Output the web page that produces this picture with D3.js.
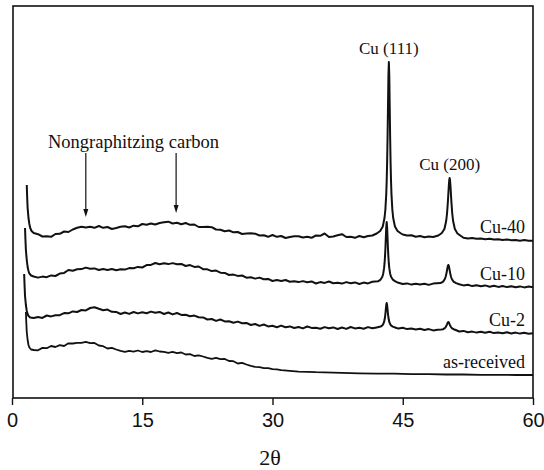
<!DOCTYPE html>
<html>
<head>
<meta charset="utf-8">
<script src="https://cdn.jsdelivr.net/npm/d3@7"></script>
<style>
  html, body { margin: 0; padding: 0; background: #fff; }
  svg { display: block; }
</style>
</head>
<body>
<div id="chart"></div>
<script>
(function () {
  'use strict';

  // XRD traces, [2θ (deg), intensity (a.u., stacked offsets included)]
  const AS_RECEIVED = [
    [1.6, 86], [1.65, 75], [1.7, 66], [1.8, 58], [1.9, 53], [2.0, 50.5], [2.2, 48.5], [2.5, 48],
    [3, 47.7], [3.5, 50.1], [4, 49.8], [4.5, 52], [5, 51], [5.5, 52.8], [6, 52], [6.5, 54.7],
    [7, 54.5], [7.5, 55.1], [8, 55.2], [8.5, 56.1], [9, 54.8], [9.5, 55], [10, 52.5], [10.5, 51.8],
    [11, 49.5], [11.5, 50.2], [12, 48.5], [12.5, 47.1], [13, 46.2], [13.5, 47.1], [14, 46.3], [14.5, 47.5],
    [15, 46], [15.5, 46.8], [16, 46], [16.5, 47.7], [17, 46.5], [17.5, 46.1], [18, 45.2], [18.5, 46.1],
    [19, 44.8], [19.5, 45.5], [20, 43.5], [20.5, 43.8], [21, 42], [21.5, 42.7], [22, 41.5], [22.5, 40.1],
    [23, 39.2], [23.5, 40.1], [24, 38.8], [24.5, 39], [25, 37], [25.5, 36.8], [26, 34.5], [26.5, 35.2],
    [27, 33.5], [27.5, 32.1], [28, 31.1], [28.5, 30.8], [29, 29.9], [29.5, 29.8], [30, 28.8], [30.5, 28.7],
    [31, 27.8], [32, 27.2], [33, 26.4], [34, 26.2], [35, 25.8], [36, 25.6], [38, 25.1], [40, 24.7],
    [42, 24.4], [44, 24.3], [46, 23.9], [48, 23.8], [50, 23.5], [52, 23.5], [54, 23.2], [56, 23.2],
    [58, 23], [60, 23]
  ];

  const CU_2 = [
    [1.4, 124], [1.45, 112], [1.5, 102], [1.6, 93], [1.7, 87], [1.8, 84], [1.9, 82], [2.1, 80.5], [2.5, 80],
    [3, 81], [3.5, 80.1], [4, 82.5], [4.5, 81.6], [5, 82.7], [5.5, 82.8], [6, 84.9], [6.5, 84.7],
    [7, 86.6], [7.5, 86], [8, 88], [8.5, 87.6], [9, 90], [9.5, 90.8], [10, 89.2], [10.5, 87.8],
    [11, 88.4], [11.5, 86.2], [12, 86.1], [12.5, 84], [13, 85.5], [13.5, 84.1], [14, 86], [14.5, 84.6],
    [15, 85.7], [15.5, 84.8], [16, 86.4], [16.5, 85.2], [17, 86.1], [17.5, 84], [18, 85.5], [18.5, 83.6],
    [19, 85], [19.5, 83.1], [20, 83.2], [20.5, 81.8], [21, 82.4], [21.5, 80.7], [22, 80.6], [22.5, 78.5],
    [23, 79], [23.5, 77.1], [24, 78.5], [24.5, 76.6], [25, 76.7], [25.5, 75.3], [26, 76.4], [26.5, 74.7],
    [27, 75.1], [27.5, 73], [28, 74], [28.5, 72.1], [29, 73.5], [29.5, 71.6], [30, 72.2], [30.5, 70.8],
    [31, 72.4], [31.5, 70.7], [32, 71.6], [32.5, 70], [33, 71], [33.5, 69.6], [34, 71.5], [34.5, 70.1],
    [35, 70.2], [35.5, 69.3], [36, 70.9], [36.5, 69.7], [37, 70.6], [37.5, 69], [38, 70.5], [38.5, 69.1],
    [39, 71], [39.5, 69.6], [40, 70.2], [40.5, 69.3], [41, 70.9], [41.5, 69.7], [42, 70.6],
    // Cu (111)
    [42.45, 71.4], [42.65, 72.6], [42.75, 73.8], [42.85, 76.1], [42.9, 77.9], [42.95, 80.5], [43.0, 84],
    [43.05, 88.6], [43.1, 93], [43.15, 95], [43.2, 93], [43.25, 88.6], [43.3, 84], [43.35, 80.5],
    [43.4, 77.9], [43.45, 76.1], [43.55, 73.8], [43.65, 72.6], [43.85, 71.4],
    [44.2, 70.3], [44.5, 69.4], [45, 70.2], [45.5, 68.9], [46, 69.4], [46.5, 68.5], [47, 69.3], [47.5, 68],
    [48, 68.9], [48.5, 67.6], [49, 68.2],
    // Cu (200)
    [49.45, 68.5], [49.65, 68.8], [49.85, 69.9], [49.95, 71], [50.05, 72.7], [50.1, 73.7], [50.15, 74.8],
    [50.2, 75.7], [50.25, 76], [50.3, 75.7], [50.35, 74.8], [50.4, 73.7], [50.45, 72.7], [50.55, 71],
    [50.65, 69.9], [50.85, 68.8], [51.1, 68],
    [51.5, 66.5], [52, 67.1], [52.5, 65.7], [53, 66.4], [53.5, 65.4], [54, 66.3], [54.5, 65.2], [55, 66.2],
    [55.5, 64.9], [56, 65.6], [56.5, 64.7], [57, 65.8], [57.5, 64.5], [58, 65.4], [58.5, 64.4], [59, 65.2],
    [59.5, 64.3], [60, 64.8]
  ];

  const CU_10 = [
    [1.5, 170], [1.55, 158], [1.6, 148], [1.7, 138], [1.8, 131], [1.9, 127], [2.0, 124.5], [2.2, 122.5], [2.5, 121.5],
    [3, 120.4], [3.5, 121.4], [4, 120.8], [4.5, 122.6], [5, 122], [5.5, 124.4], [6, 125.1], [6.5, 128],
    [7, 127.3], [7.5, 128.7], [8, 128.9], [8.5, 130.4], [9, 129.3], [9.5, 129.6], [10, 128], [10.5, 128.9],
    [11, 128.1], [11.5, 129], [12, 127.8], [12.5, 128.7], [13, 128.4], [13.5, 129.9], [14, 129.8], [14.5, 131.1],
    [15, 130.5], [15.5, 132.9], [16, 133.1], [16.5, 135], [17, 133.8], [17.5, 134.7], [18, 133.9], [18.5, 134.9],
    [19, 133.8], [19.5, 134.1], [20, 132], [20.5, 132.9], [21, 131.1], [21.5, 131.5], [22, 128.8], [22.5, 128.7],
    [23, 126.9], [23.5, 127.4], [24, 125.3], [24.5, 125.1], [25, 123], [25.5, 123.4], [26, 122.1], [26.5, 122.5],
    [27, 120.3], [27.5, 120.7], [28, 119.4], [28.5, 120.4], [29, 118.8], [29.5, 119.1], [30, 117], [30.5, 117.9],
    [31, 117.1], [31.5, 118], [32, 116.3], [32.5, 116.7], [33, 115.9], [33.5, 116.9], [34, 115.8], [34.5, 116.6],
    [35, 114.5], [35.5, 115.9], [36, 115.1], [36.5, 116.5], [37, 114.8], [37.5, 115.2], [38, 114.4], [38.5, 115.9],
    [39, 114.8], [39.5, 115.6], [40, 114], [40.5, 115.4], [41, 114.6], [41.5, 116.2],
    // Cu (111)
    [42.15, 116.7], [42.45, 118.4], [42.65, 121.3], [42.75, 124.3], [42.85, 129.8], [42.9, 134.3], [42.95, 140.5],
    [43.0, 149], [43.05, 160], [43.1, 171], [43.15, 176], [43.2, 171], [43.25, 160], [43.3, 149],
    [43.35, 140.5], [43.4, 134.3], [43.45, 129.8], [43.55, 124.3], [43.65, 121.3], [43.85, 118.4], [44.15, 116.7],
    [44.5, 115.2], [45, 114], [45.5, 114.6], [46, 113.4], [46.5, 114.2], [47, 113.5], [47.5, 114.3], [48, 113.1],
    [48.5, 114.4],
    // Cu (200)
    [49.35, 114.9], [49.65, 116.4], [49.85, 119], [49.95, 121.5], [50.05, 125.4], [50.1, 127.8], [50.15, 130.3],
    [50.2, 132.2], [50.25, 133], [50.3, 132.2], [50.35, 130.3], [50.4, 127.8], [50.45, 125.4], [50.55, 121.5],
    [50.65, 119], [50.85, 116.4], [51.15, 114.9],
    [51.5, 113.8], [52, 112.6], [52.5, 113.2], [53, 111.9], [53.5, 112.8], [54, 111.7], [54.5, 112.6], [55, 111.3],
    [55.5, 112.3], [56, 111.1], [56.5, 112], [57, 110.9], [57.5, 111.8], [58, 110.7], [58.5, 111.6], [59, 110.6],
    [59.5, 111.4], [60, 110.8]
  ];

  const CU_40 = [
    [1.7, 213], [1.75, 200], [1.8, 190], [1.9, 180], [2.0, 174], [2.1, 170], [2.25, 167], [2.5, 165],
    [3, 163.8], [3.5, 161.5], [4, 161.8], [4.5, 161.2], [5, 164], [5.5, 164.2], [6, 166.5], [6.5, 166],
    [7, 168.5], [7.5, 170.2], [8, 171.3], [8.5, 170.5], [9, 171.3], [9.5, 170.2], [10, 172], [10.5, 170.2],
    [11, 171], [11.5, 169], [12, 170], [12.5, 171.2], [13, 171.8], [13.5, 170.5], [14, 172.3], [14.5, 171.7],
    [15, 174], [15.5, 173.2], [16, 174.5], [16.5, 173.5], [17, 175], [17.5, 175.7], [18, 176.3], [18.5, 174.5],
    [19, 175.3], [19.5, 173.7], [20, 175], [20.5, 173.2], [21, 173.5], [21.5, 171], [22, 171], [22.5, 171.2],
    [23, 170.8], [23.5, 168.5], [24, 168.3], [24.5, 166.7], [25, 167.5], [25.5, 165.7], [26, 166], [26.5, 164],
    [27, 164.5], [27.5, 164.7], [28, 164.3], [28.5, 162.5], [29, 162.8], [29.5, 161.2], [30, 163], [30.5, 161.2],
    [31, 162], [31.5, 160], [32, 161], [32.5, 161.7], [33, 161.8], [33.5, 160.5], [34, 161.3], [34.5, 160.2],
    [35, 162.5], [35.5, 162.2], [36, 164.5], [36.5, 161], [37, 161.5], [37.5, 162.7], [38, 163.8], [38.5, 161],
    [39, 161.3], [39.5, 160.2], [40, 162], [40.5, 160.7], [41, 162], [41.5, 162.5],
    // Cu (111)
    [42.0, 164.5], [42.4, 167], [42.7, 171.5], [42.9, 180], [43.0, 188.5], [43.1, 204], [43.15, 217], [43.2, 235],
    [43.25, 260], [43.3, 291], [43.35, 322], [43.4, 336], [43.45, 322], [43.5, 291], [43.55, 260], [43.6, 235],
    [43.65, 217], [43.7, 204], [43.8, 188.5], [43.9, 180], [44.1, 171.5], [44.4, 167], [44.8, 164.5],
    [45, 163.5], [45.5, 162.5], [46, 162.8], [46.5, 161.2], [47, 162], [47.5, 160.8], [48, 161.5], [48.5, 161],
    // Cu (200)
    [49.1, 162.5], [49.5, 165], [49.8, 169], [50.0, 177], [50.1, 184.5], [50.2, 196.5], [50.25, 204], [50.3, 211.5],
    [50.35, 217.5], [50.4, 220], [50.45, 217.5], [50.5, 211.5], [50.55, 204], [50.6, 196.5], [50.7, 184.5],
    [50.8, 177], [51.0, 169], [51.3, 164.5], [51.7, 162],
    [52, 160.2], [52.5, 159.5], [53, 160], [53.5, 159.2], [54, 159.5], [54.5, 158.7], [55, 159.3], [55.5, 158.5],
    [56, 158.8], [56.5, 158], [57, 158.6], [57.5, 157.8], [58, 158.1], [58.5, 157.3], [59, 157.9], [59.5, 157.2], [60, 157.3]
  ];

  const SERIES = [AS_RECEIVED, CU_2, CU_10, CU_40];
  const SERIES_LABELS = ['as-received', 'Cu-2', 'Cu-10', 'Cu-40'];
  const X_TICKS = [0, 15, 30, 45, 60];
  // peak annotations on the Cu-40 trace: [2θ, label]
  const PEAKS = [[43.4, 'Cu (111)'], [50.4, 'Cu (200)']];
  // amorphous carbon humps marked with arrows
  const CARBON_ARROWS = [8.5, 18.9];
  const CARBON_LABEL = 'Nongraphitzing carbon';

  const W = 544, H = 470;
  const frame = { left: 13, right: 533, top: 6, bottom: 398 };

  const svg = d3.select('#chart').append('svg').attr('width', W).attr('height', H);

  const x = d3.scaleLinear().domain([0, 60]).range([12, 533]);
  const y = d3.scaleLinear().domain([0, 392]).range([frame.bottom, frame.top]);

  const serif = "'Liberation Serif', 'Times New Roman', serif";
  const sans = "'Liberation Sans', Arial, sans-serif";

  // traces
  const line = d3.line().x(d => x(d[0])).y(d => y(d[1]));
  svg.append('g').selectAll('path').data(SERIES).enter().append('path')
    .attr('d', line)
    .attr('fill', 'none')
    .attr('stroke', '#111')
    .attr('stroke-width', (_, i) => i === 0 ? 1.8 : 2)
    .attr('stroke-linejoin', 'round');

  // frame
  svg.append('rect')
    .attr('x', frame.left).attr('y', frame.top)
    .attr('width', frame.right - frame.left).attr('height', frame.bottom - frame.top)
    .attr('fill', 'none').attr('stroke', '#111').attr('stroke-width', 1.6);

  // bottom axis, ticks pointing outward
  const axis = svg.append('g').attr('transform', `translate(0,${frame.bottom})`)
    .call(d3.axisBottom(x).tickValues(X_TICKS).tickSize(7).tickPadding(8).tickFormat(d3.format('d')));
  axis.select('.domain').remove();
  axis.selectAll('line').attr('stroke', '#111').attr('stroke-width', 1.4);
  axis.selectAll('text').attr('font-family', sans).attr('font-size', 20).attr('fill', '#111');

  svg.append('text').attr('x', 270).attr('y', 465)
    .attr('text-anchor', 'middle').attr('font-family', serif).attr('font-size', 22)
    .attr('fill', '#111').text('2θ');

  // sample labels sit just above the right end of each trace
  svg.append('g').selectAll('text').data(SERIES).enter().append('text')
    .attr('x', 525)
    .attr('y', d => y(d[d.length - 1][1]) - 7.5)
    .attr('text-anchor', 'end')
    .attr('font-family', serif).attr('font-size', 18).attr('fill', '#111')
    .text((_, i) => SERIES_LABELS[i]);

  // peak labels above Cu-40 peaks
  const peakTop = t => d3.max(CU_40.filter(d => Math.abs(d[0] - t) < 0.3), d => d[1]);
  svg.append('g').selectAll('text').data(PEAKS).enter().append('text')
    .attr('x', d => x(d[0]))
    .attr('y', d => y(peakTop(d[0])) - 8)
    .attr('text-anchor', 'middle')
    .attr('font-family', serif).attr('font-size', 17).attr('fill', '#111')
    .text(d => d[1]);

  // carbon annotation
  svg.append('text').attr('x', 48).attr('y', 148)
    .attr('font-family', serif).attr('font-size', 18.5).attr('fill', '#111')
    .text(CARBON_LABEL);

  const arrows = svg.append('g');
  CARBON_ARROWS.forEach((t, i) => {
    const ax = x(t);
    const tip = i === 0 ? 217 : 213;
    arrows.append('line').attr('x1', ax).attr('x2', ax).attr('y1', 153).attr('y2', tip - 6)
      .attr('stroke', '#111').attr('stroke-width', 1.2);
    arrows.append('path')
      .attr('d', `M${ax - 2.5},${tip - 8} L${ax + 2.5},${tip - 8} L${ax},${tip} Z`)
      .attr('fill', '#111');
  });
})();
</script>
</body>
</html>
